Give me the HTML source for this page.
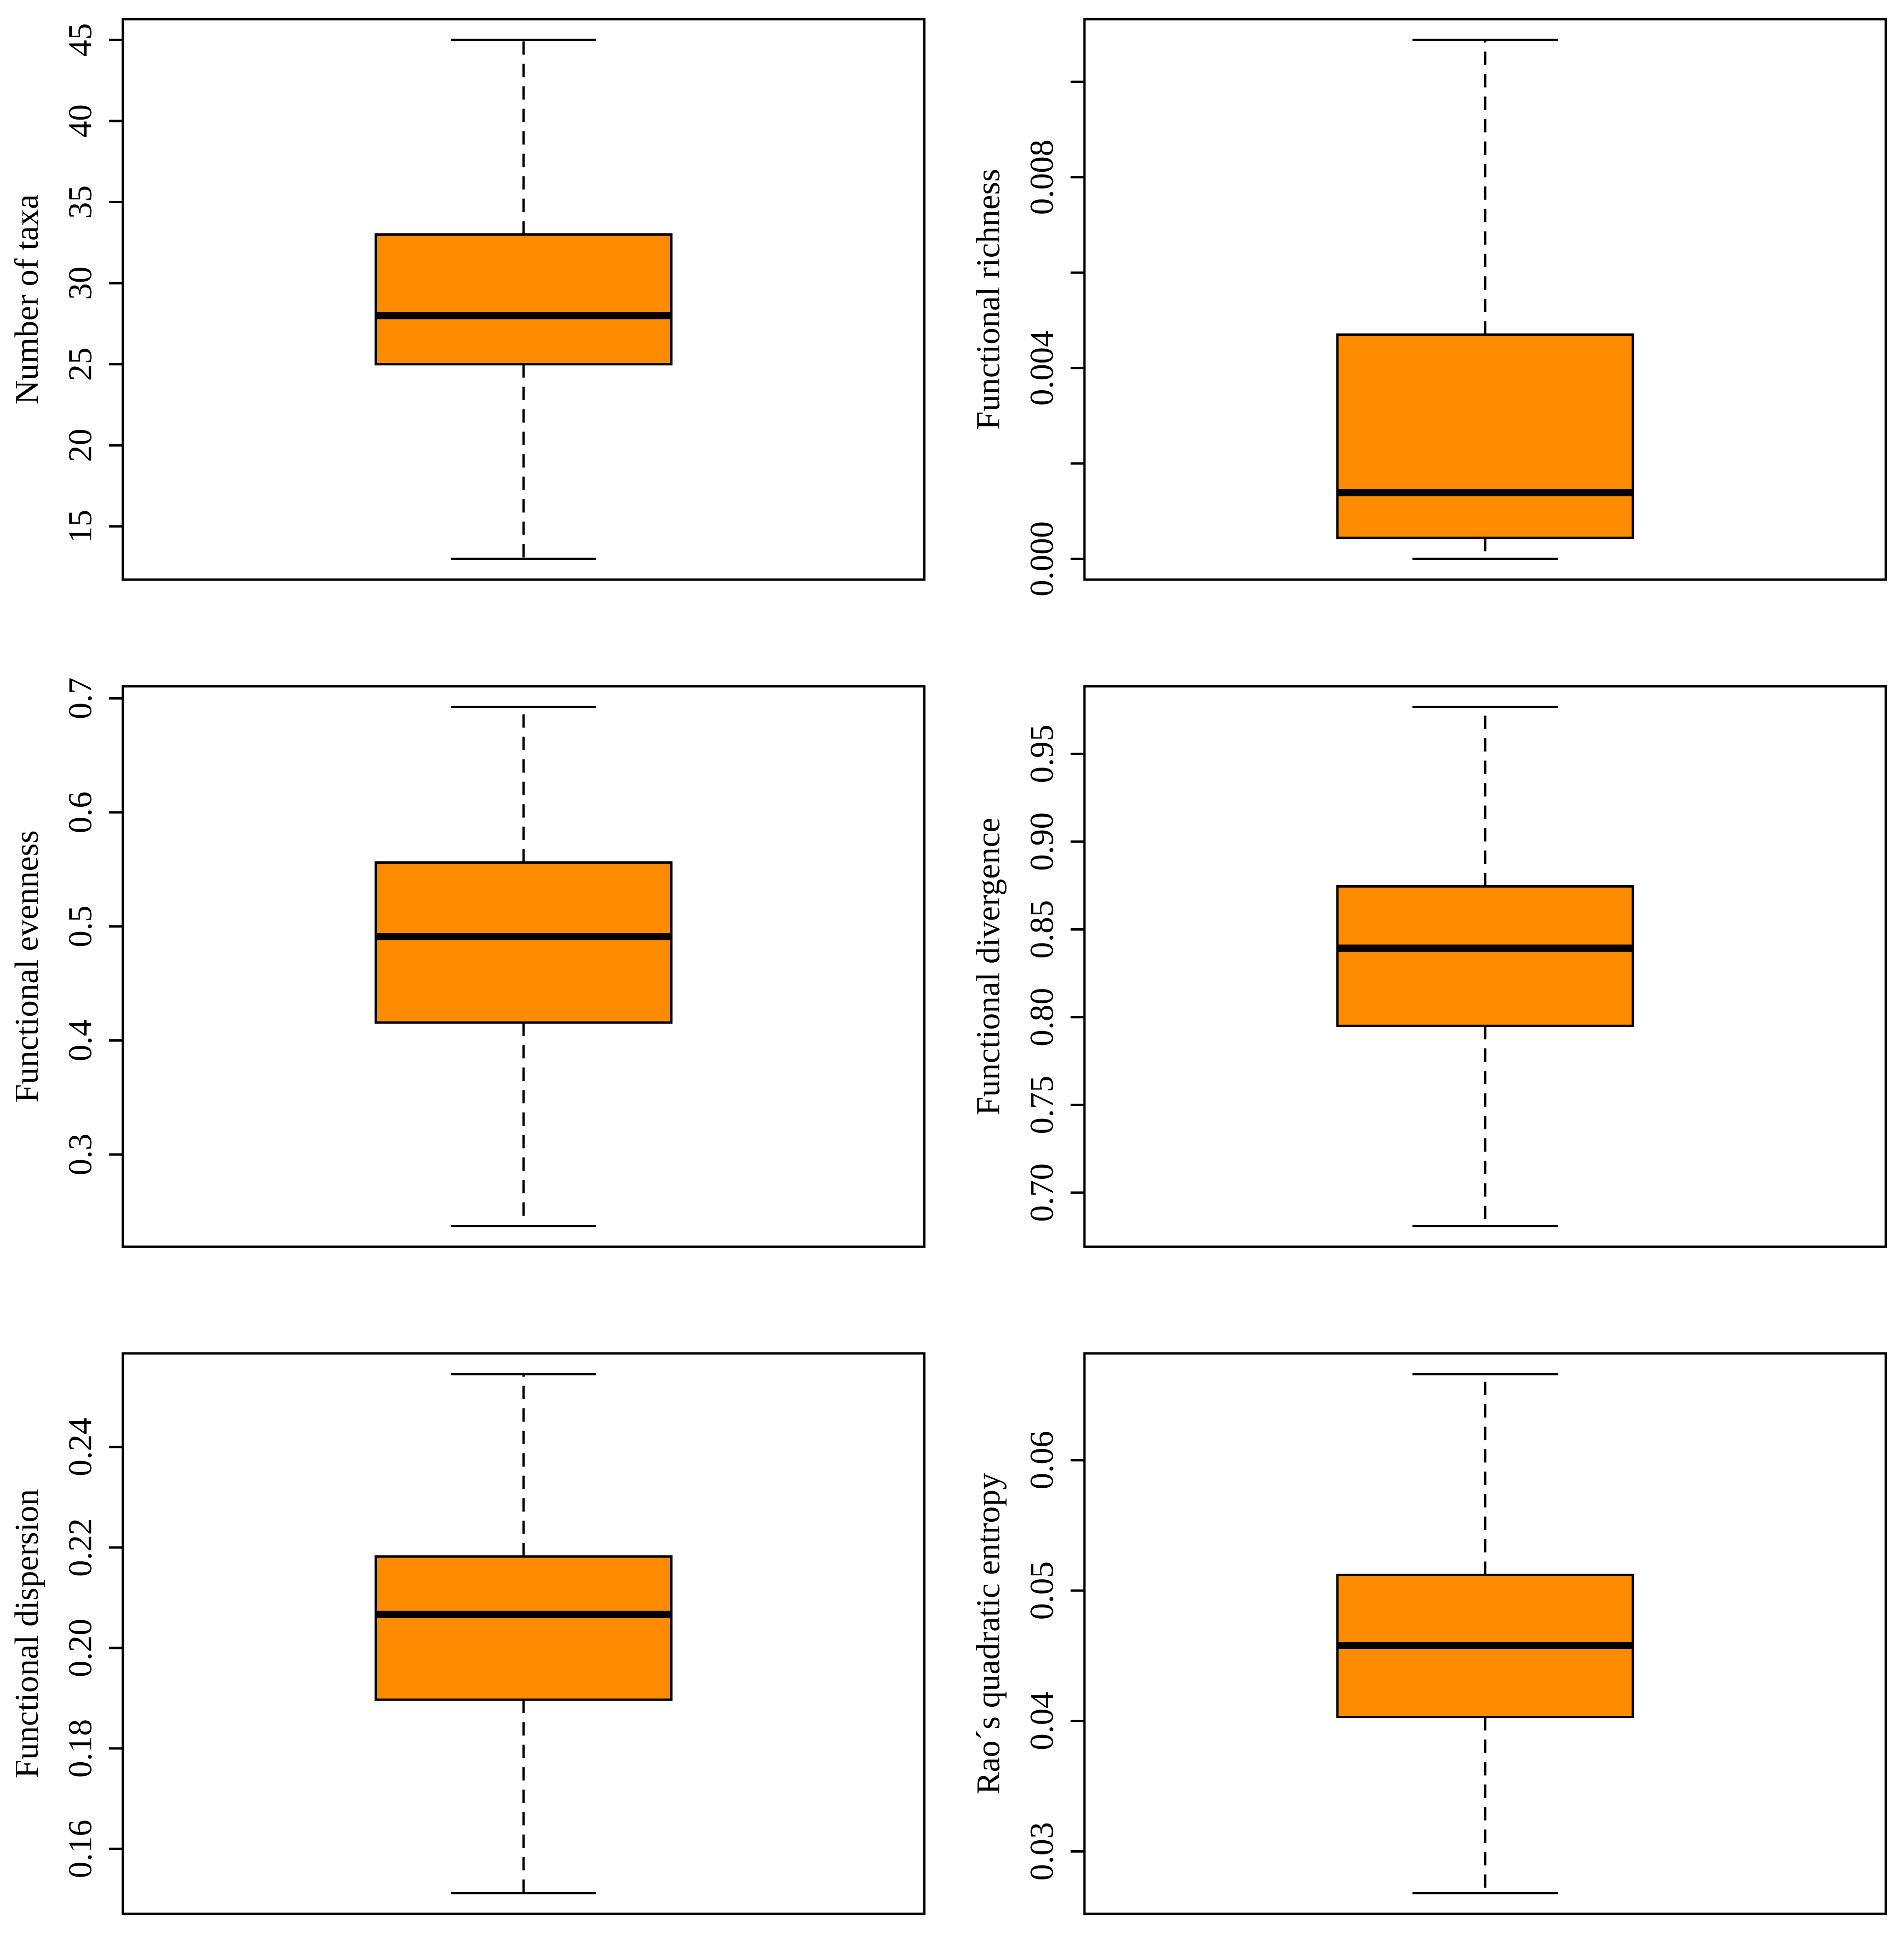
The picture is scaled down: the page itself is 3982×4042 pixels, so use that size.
<!DOCTYPE html>
<html><head><meta charset="utf-8"><style>
html,body{margin:0;padding:0;background:#fff;}
svg{display:block;}
text{font-family:"Liberation Serif",serif;fill:#000;}
</style></head><body>
<svg id="chart" width="3982" height="4042" viewBox="0 0 3982 4042" xmlns="http://www.w3.org/2000/svg"></svg>
<script>
const titles = ["Number of taxa","Functional richness","Functional evenness","Functional divergence","Functional dispersion","Rao\u00b4s quadratic entropy"];
const mins = [13, 0, 0.2373, 0.681, 0.1512, 0.0268];
const q1s = [25, 0.00044, 0.4157, 0.7950, 0.1897, 0.0403];
const medians = [28, 0.00139, 0.491, 0.8393, 0.2067, 0.0458];
const q3s = [33, 0.0047, 0.556, 0.8745, 0.2182, 0.0512];
const maxs = [45, 0.01088, 0.6924, 0.9767, 0.2545, 0.0666];
const tickVals = [[15,20,25,30,35,40,45],[0,0.002,0.004,0.006,0.008,0.010],[0.3,0.4,0.5,0.6,0.7],[0.70,0.75,0.80,0.85,0.90,0.95],[0.16,0.18,0.20,0.22,0.24],[0.03,0.04,0.05,0.06]];
const tickLabels = [["15","20","25","30","35","40","45"],["0.000","","0.004","","0.008",""],["0.3","0.4","0.5","0.6","0.7"],["0.70","0.75","0.80","0.85","0.90","0.95"],["0.16","0.18","0.20","0.22","0.24"],["0.03","0.04","0.05","0.06"]];

const svg = document.getElementById('chart');
const NS = 'http://www.w3.org/2000/svg';
function mk(tag, attrs, parent){
  const e = document.createElementNS(NS, tag);
  for (const k in attrs) e.setAttribute(k, attrs[k]);
  parent.appendChild(e);
  return e;
}
const colX = [257, 2268], rowY = [40, 1435, 2830];
const W = 1676, H = 1172;
for (let i = 0; i < 6; i++) {
  const L = colX[i % 2], T = rowY[Math.floor(i / 2)], B = T + H;
  const r = maxs[i] - mins[i];
  const lo = mins[i] - 0.04 * r, hi = maxs[i] + 0.04 * r;
  const y = v => B - (v - lo) / (hi - lo) * H;
  const cx = L + W / 2;
  const g = mk('g', {}, svg);
  
  
  const w1 = mk('line', {x1:cx, x2:cx, y1:y(q3s[i]), y2:y(maxs[i]), stroke:'#000','stroke-width':5,'stroke-dasharray':'28 19'}, g);
  
  
  const w2 = mk('line', {x1:cx, x2:cx, y1:y(q1s[i]), y2:y(mins[i]), stroke:'#000','stroke-width':5,'stroke-dasharray':'28 19'}, g);
  
  
  const c1 = mk('line', {x1:cx-152, x2:cx+152, y1:y(maxs[i]), y2:y(maxs[i]), stroke:'#000','stroke-width':5}, g);
  
  
  const c2 = mk('line', {x1:cx-152, x2:cx+152, y1:y(mins[i]), y2:y(mins[i]), stroke:'#000','stroke-width':5}, g);
  
  
  const bx = mk('rect', {x:cx-309, y:y(q3s[i]), width:618, height:y(q1s[i])-y(q3s[i]), fill:'#FF8C00', stroke:'#000','stroke-width':5}, g);
  
  
  const md = mk('line', {x1:cx-309, x2:cx+309, y1:y(medians[i]), y2:y(medians[i]), stroke:'#000','stroke-width':15}, g);
  
  
  const fr = mk('rect', {x:L, y:T, width:W, height:H, fill:'none', stroke:'#000','stroke-width':5}, g);
  
  
  tickVals[i].forEach((v, k) => {
    const ty = y(v);
    const tk = mk('line', {x1:L-29, x2:L, y1:ty, y2:ty, stroke:'#000','stroke-width':5}, g);
    
    
    if (tickLabels[i][k]) {
      const tx = mk('text', {x:0, y:0, transform:'translate(' + (L-66) + ',' + ty + ') rotate(-90)', 'text-anchor':'middle', 'font-size':70}, g);
      tx.textContent = tickLabels[i][k];
      
      
    }
  });
  const at = mk('text', {x:0, y:0, transform:'translate(' + (L-178) + ',' + (T+H/2) + ') rotate(-90)', 'text-anchor':'middle', 'font-size':70}, g);
  at.textContent = titles[i];
  
  
}
</script>
</body></html>
